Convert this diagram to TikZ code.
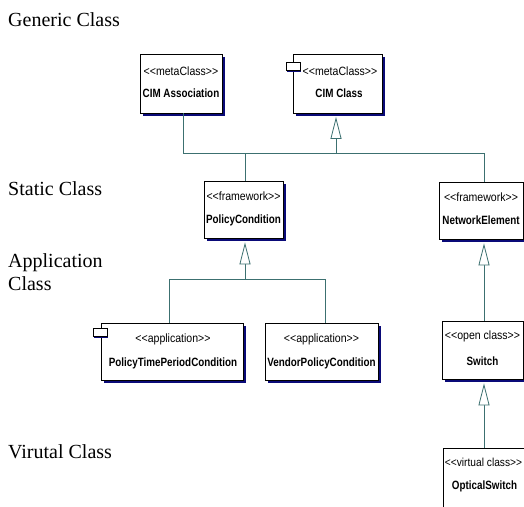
\documentclass[tikz,border=0pt]{standalone}
\usepackage{fontspec}
\setmainfont{Liberation Serif}
\newfontfamily\stfont[FakeStretch=0.88]{Liberation Sans}
\newfontfamily\nmfont[FakeStretch=0.82]{Liberation Sans}
\usetikzlibrary{shadows,arrows.meta,calc}
\definecolor{shadowblue}{RGB}{10,10,120}
\definecolor{linecol}{RGB}{60,112,112}
\begin{document}
\begin{tikzpicture}[x=1pt,y=-1pt,
  umlbox/.style={draw=black, fill=white, line width=0.8pt, inner sep=0pt,
    drop shadow={shadow xshift=3pt, shadow yshift=-3pt, fill=shadowblue, opacity=1}},
  iconbox/.style={draw=black, fill=white, line width=0.8pt, inner sep=0pt,
    minimum width=14pt, minimum height=8pt,
    drop shadow={shadow xshift=1pt, shadow yshift=-2pt, fill=shadowblue, opacity=1}},
  ster/.style={font=\stfont\fontsize{12}{14}\selectfont, inner sep=0pt, anchor=base},
  nm/.style={font=\nmfont\bfseries\fontsize{12}{14}\selectfont, inner sep=0pt, anchor=base},
  lbl/.style={font=\fontsize{20}{23}\selectfont, inner sep=0pt, anchor=base west},
  conn/.style={draw=linecol, line width=0.8pt},
  gen/.style={conn, -{Triangle[open, length=22pt, width=11pt, fill=white]}}]
\useasboundingbox (0,0) rectangle (524,506);
\clip (0,0) rectangle (524,506);

% level labels
\node[lbl] (lgen) at (8,27) {Generic Class};
\node[lbl] (lsta) at (8,195) {Static Class};
\node[lbl] (lap1) at (8,267) {Application};
\node[lbl] (lap2) at (8,290) {Class};
\node[lbl] (lvir) at (8,458) {Virutal Class};

% boxes
\node[umlbox, minimum width=82pt, minimum height=59pt] (assoc) at (181,83.5) {};
\node[ster] (assocS) at (181,75) {<<metaClass>>};
\node[nm] (assocN) at (181,97) {CIM Association};

\node[umlbox, minimum width=89pt, minimum height=59pt] (cim) at (337.5,83.5) {};
\node[iconbox] (cimI) at (293,66) {};
\node[ster] (cimS) at (340,75) {<<metaClass>>};
\node[nm] (cimN) at (339,97) {CIM Class};

\node[umlbox, minimum width=79pt, minimum height=57pt] (pol) at (243.5,209.5) {};
\node[ster] (polS) at (243.5,200) {<<framework>>};
\node[nm] (polN) at (243.5,223) {PolicyCondition};

\node[umlbox, minimum width=84pt, minimum height=57pt] (net) at (481,210.5) {};
\node[ster] (netS) at (481,201) {<<framework>>};
\node[nm] (netN) at (481,224) {NetworkElement};

\node[umlbox, minimum width=142pt, minimum height=57pt] (ptp) at (172,351.5) {};
\node[iconbox] (ptpI) at (100,332) {};
\node[ster] (ptpS) at (173,342) {<<application>>};
\node[nm] (ptpN) at (173,366) {PolicyTimePeriodCondition};

\node[umlbox, minimum width=113pt, minimum height=57pt] (vpc) at (321.5,351.5) {};
\node[ster] (vpcS) at (321.5,342) {<<application>>};
\node[nm] (vpcN) at (321.5,366) {VendorPolicyCondition};

\node[umlbox, minimum width=81pt, minimum height=58pt] (sw) at (482.5,350) {};
\node[ster] (swS) at (482.5,339) {<<open class>>};
\node[nm] (swN) at (482.5,365) {Switch};

\node[umlbox, minimum width=88pt, minimum height=62pt] (osw) at (487,479) {};
\node[ster, font=\stfont\fontsize{11.6}{14}\selectfont] (oswS) at (483.5,466) {<<virtual class>>};
\node[nm] (oswN) at (484.5,489) {OpticalSwitch};

% junction points
\coordinate (bL) at (183,153);
\coordinate (bC) at (336,153);
\coordinate (bP) at (245,153);
\coordinate (bR) at (484,153);
\coordinate (pL) at (169,279);
\coordinate (pM) at (245,279);
\coordinate (pR) at (325,279);

% connectors
\draw[conn] (assoc.south -| bL) -- (bL) -- (bR) -- (net.north -| bR);
\draw[conn] (bP) -- (pol.north -| bP);
\draw[gen] (bC) -- ($(cim.south -| bC)+(0,3.5)$);
\draw[gen] (pM) -- ($(pol.south -| pM)+(0,4)$);
\draw[conn] (ptp.north -| pL) -- (pL) -- (pR) -- (vpc.north -| pR);
\draw[gen] (sw.north -| bR) -- ($(net.south -| bR)+(0,4)$);
\draw[gen] (osw.north -| bR) -- ($(sw.south -| bR)+(0,4)$);
\end{tikzpicture}
\end{document}
